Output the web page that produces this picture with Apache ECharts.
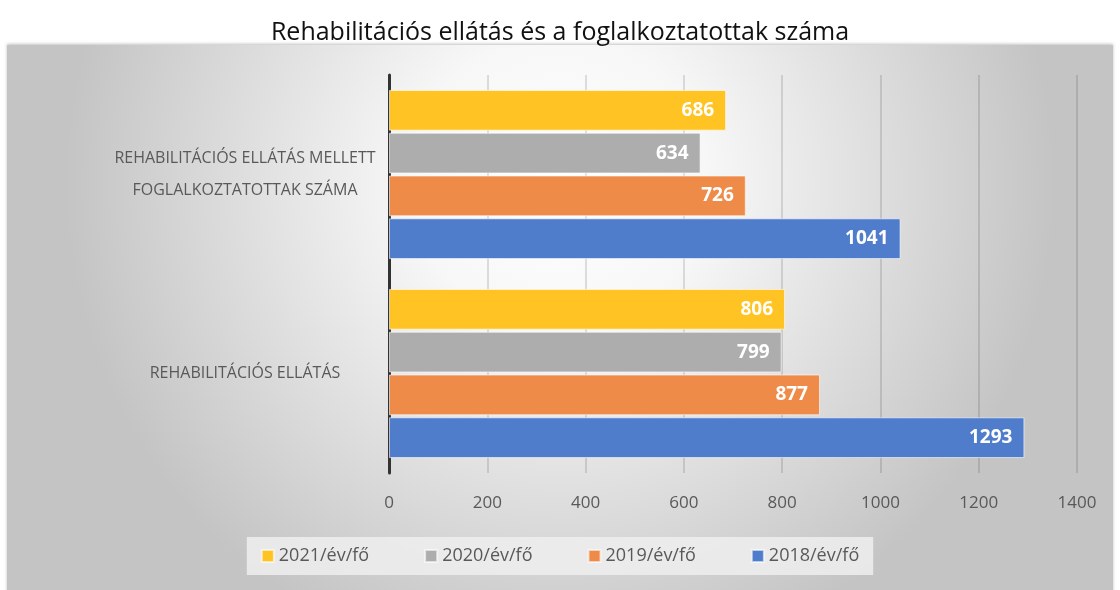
<!DOCTYPE html>
<html>
<head>
<meta charset="utf-8">
<script src="https://cdn.jsdelivr.net/npm/echarts@6/dist/echarts.min.js"></script>
<style>
  html, body { margin: 0; padding: 0; background: #fff; }
  #main { width: 1120px; height: 590px; }
</style>
</head>
<body>
<div id="main"></div>
<script>
// data
var categories = ['REHABILITÁCIÓS ELLÁTÁS', 'REHABILITÁCIÓS ELLÁTÁS MELLETT\nFOGLALKOZTATOTTAK SZÁMA'];
var seriesNames = ['2021/év/fő', '2020/év/fő', '2019/év/fő', '2018/év/fő'];
var values2021 = [806, 686];
var values2020 = [799, 634];
var values2019 = [877, 726];
var values2018 = [1293, 1041];
var xTicks = [0, 1400, 200]; // min, max, interval

var colors = ['#ffc423', '#adadad', '#ee8b49', '#4f7dcc'];
var font = 'Open Sans';

var myChart = echarts.init(document.getElementById('main'));

function barSeries(name, data, color) {
    return {
        name: name,
        type: 'bar',
        data: data,
        barGap: '5%',
        barCategoryGap: '15%',
        itemStyle: { color: color, borderColor: 'rgba(255,255,255,0.6)', borderWidth: 1 },
        label: {
            show: true,
            position: 'insideRight',
            distance: 12,
            color: '#fff',
            fontWeight: 'bold',
            fontSize: 19,
            fontFamily: font
        }
    };
}

var option = {
    animation: false,
    color: colors,
    title: {
        text: 'Rehabilitációs ellátás és a foglalkoztatottak száma',
        left: 'center',
        top: 15,
        textStyle: { fontFamily: font, fontWeight: 'normal', fontSize: 25, color: '#111' }
    },
    graphic: [{
        type: 'rect',
        z: -10,
        shape: { x: 7, y: 45, width: 1106, height: 550 },
        style: {
            fill: {
                type: 'radial', x: 0.5, y: 0.25, r: 0.9,
                colorStops: [
                    { offset: 0, color: '#ffffff' },
                    { offset: 0.3, color: '#f7f7f7' },
                    { offset: 1, color: '#c4c4c4' }
                ]
            },
            shadowColor: 'rgba(0,0,0,0.25)',
            shadowBlur: 3,
            shadowOffsetY: -1
        }
    }],
    legend: {
        data: seriesNames,
        left: 'center',
        top: 537,
        icon: 'rect',
        itemWidth: 12,
        itemHeight: 12,
        itemGap: 55,
        padding: [10, 14],
        backgroundColor: 'rgba(238,238,238,0.85)',
        textStyle: { fontFamily: font, fontSize: 18, color: '#595959' }
    },
    grid: { left: 389, right: 43, top: 75, bottom: 117 },
    xAxis: {
        type: 'value',
        min: xTicks[0],
        max: xTicks[1],
        interval: xTicks[2],
        axisLine: { show: false },
        axisTick: { show: false },
        axisLabel: {
            margin: 22,
            fontFamily: font,
            fontSize: 17,
            color: '#595959',
            formatter: function (v) { return String(v); }
        },
        splitLine: { lineStyle: { color: 'rgba(0,0,0,0.16)', width: 1.5 } }
    },
    yAxis: {
        type: 'category',
        data: categories,
        axisLine: { show: true, lineStyle: { color: '#333', width: 3 } },
        axisTick: { show: false },
        axisLabel: {
            margin: 144,
            align: 'center',
            lineHeight: 32,
            padding: [12, 0, 0, 0],
            fontFamily: font,
            fontSize: 16,
            color: '#595959'
        }
    },
    series: [
        barSeries(seriesNames[0], values2021, colors[0]),
        barSeries(seriesNames[1], values2020, colors[1]),
        barSeries(seriesNames[2], values2019, colors[2]),
        barSeries(seriesNames[3], values2018, colors[3])
    ]
};

myChart.setOption(option);
window.onresize = myChart.resize;
</script>
</body>
</html>
